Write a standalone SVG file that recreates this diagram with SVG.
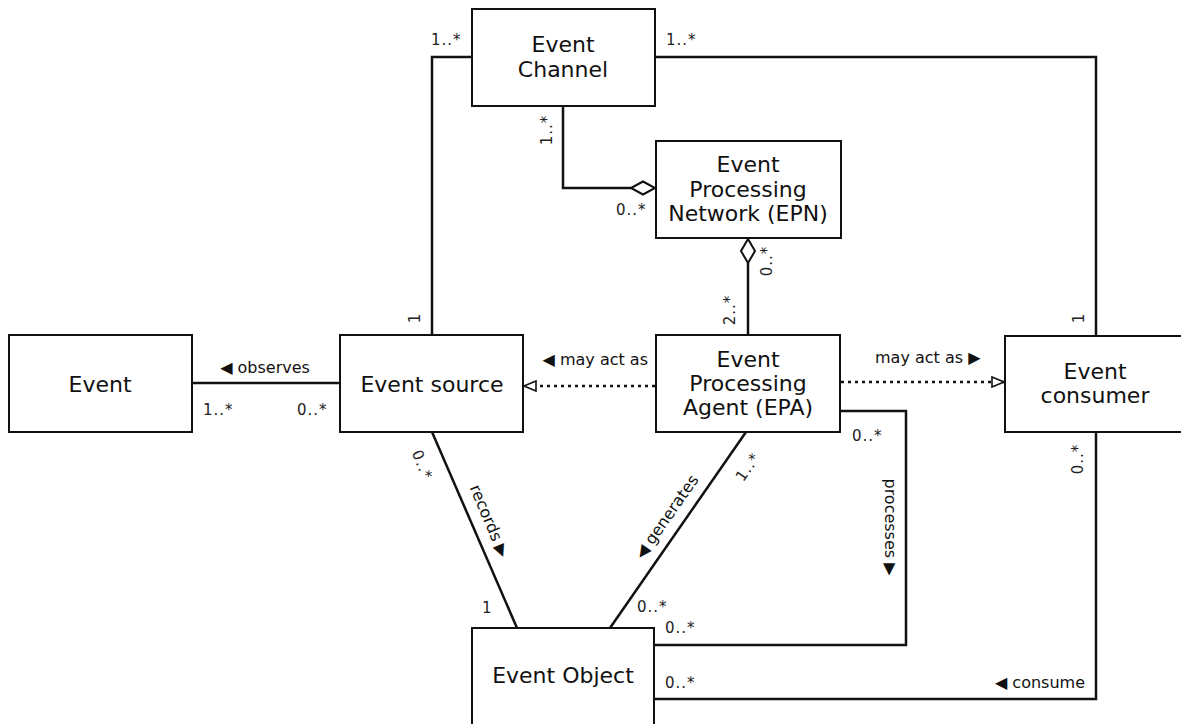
<svg xmlns="http://www.w3.org/2000/svg" width="1181" height="724" viewBox="0 0 1181 724">
<defs>
<style>
.box{fill:#fff;stroke:#111;stroke-width:2}
.t{font-family:"DejaVu Sans",sans-serif;font-size:22px;fill:#111;text-anchor:middle}
.c{fill:none;stroke:#111;stroke-width:2.5}
.d{fill:none;stroke:#111;stroke-width:2.5;stroke-dasharray:3 4}
.l{font-family:"DejaVu Sans",sans-serif;font-size:16px;fill:#111}
.m{font-family:"DejaVu Sans",sans-serif;font-size:15px;fill:#222;letter-spacing:1px}
.mc{text-anchor:middle}
.dia{fill:#fff;stroke:#111;stroke-width:2}
</style>
<marker id="tri" markerWidth="14" markerHeight="12" refX="13" refY="6" orient="auto" markerUnits="userSpaceOnUse">
<path d="M1,1 L13,6 L1,11 Z" fill="#fff" stroke="#111" stroke-width="1.6"/>
</marker>
</defs>
<rect width="1181" height="724" fill="#fff"/>

<g id="connectors">
<polyline class="c" points="472,57 432,57 432,335"/>
<polyline class="c" points="655,57 1096,57 1096,336"/>
<polyline class="c" points="563,106 563,188 631,188"/>
<path class="dia" d="M631,188 L643,181.5 L655,188 L643,194.5 Z"/>
<path class="dia" d="M748,239 L755,251 L748,263 L741,251 Z"/>
<line class="c" x1="748" y1="263" x2="748" y2="335"/>
<line class="c" x1="192" y1="383" x2="340" y2="383"/>
<line class="d" x1="655" y1="386" x2="524" y2="386" marker-end="url(#tri)"/>
<line class="d" x1="841" y1="382" x2="1004" y2="382" marker-end="url(#tri)"/>
<line class="c" x1="432" y1="432" x2="517" y2="628"/>
<line class="c" x1="746" y1="432" x2="610" y2="628"/>
<polyline class="c" points="840,411 906,411 906,645 654,645"/>
<polyline class="c" points="654,699 1096,699 1096,432"/>
</g>

<g id="event-channel">
<rect class="box" x="472" y="9" width="183" height="97"/>
<text class="t" x="563" y="52">Event</text>
<text class="t" x="563" y="77">Channel</text>
</g>
<g id="epn">
<rect class="box" x="656" y="141" width="185" height="97"/>
<text class="t" x="748" y="172">Event</text>
<text class="t" x="748" y="197">Processing</text>
<text class="t" x="748" y="221">Network (EPN)</text>
</g>
<g id="event">
<rect class="box" x="9" y="335" width="183" height="97"/>
<text class="t" x="100" y="392">Event</text>
</g>
<g id="event-source">
<rect class="box" x="340" y="335" width="183" height="97"/>
<text class="t" x="432" y="392">Event source</text>
</g>
<g id="epa">
<rect class="box" x="656" y="335" width="184" height="97"/>
<text class="t" x="748" y="367">Event</text>
<text class="t" x="748" y="391">Processing</text>
<text class="t" x="748" y="415">Agent (EPA)</text>
</g>
<g id="event-consumer">
<rect class="box" x="1005" y="336" width="182" height="96"/>
<text class="t" x="1095" y="379">Event</text>
<text class="t" x="1095" y="403">consumer</text>
</g>
<g id="event-object">
<rect class="box" x="472" y="628" width="182" height="120"/>
<text class="t" x="563" y="683">Event Object</text>
</g>

<g id="labels">
<text class="m" x="431" y="45">1..*</text>
<text class="m" x="666" y="45">1..*</text>
<text class="m mc" transform="translate(547,130) rotate(-90)" y="5">1..*</text>
<text class="m" x="616" y="215">0..*</text>
<text class="m mc" transform="translate(767,261) rotate(-90)" y="5">0..*</text>
<text class="m mc" transform="translate(730,310) rotate(-90)" y="5">2..*</text>
<text class="m mc" transform="translate(415,318) rotate(-90)" y="5">1</text>
<text class="m mc" transform="translate(1079,318) rotate(-90)" y="5">1</text>
<text class="l" x="265" y="373" text-anchor="middle">◀ observes</text>
<text class="m" x="203" y="415">1..*</text>
<text class="m" x="297" y="415">0..*</text>
<text class="l" x="648" y="365" text-anchor="end">◀ may act as</text>
<text class="l" x="875" y="363">may act as ▶</text>
<text class="m mc" transform="translate(1078,459) rotate(-90)" y="5">0..*</text>
<text class="m" x="852" y="441">0..*</text>
<text class="m mc" transform="translate(422,465) rotate(67)" y="5">0..*</text>
<text class="l" text-anchor="middle" transform="translate(489,521) rotate(67)" y="5">records ▶</text>
<text class="m" x="482" y="613">1</text>
<text class="l" text-anchor="middle" transform="translate(667,517) rotate(-55)" y="5">◀ generates</text>
<text class="m mc" transform="translate(748,467) rotate(-55)" y="5">1..*</text>
<text class="m" x="637" y="612">0..*</text>
<text class="l" text-anchor="middle" transform="translate(890,527) rotate(90)" y="5">processes ▶</text>
<text class="m" x="665" y="633">0..*</text>
<text class="m" x="665" y="688">0..*</text>
<text class="l" x="1085" y="688" text-anchor="end">◀ consume</text>
</g>
</svg>
